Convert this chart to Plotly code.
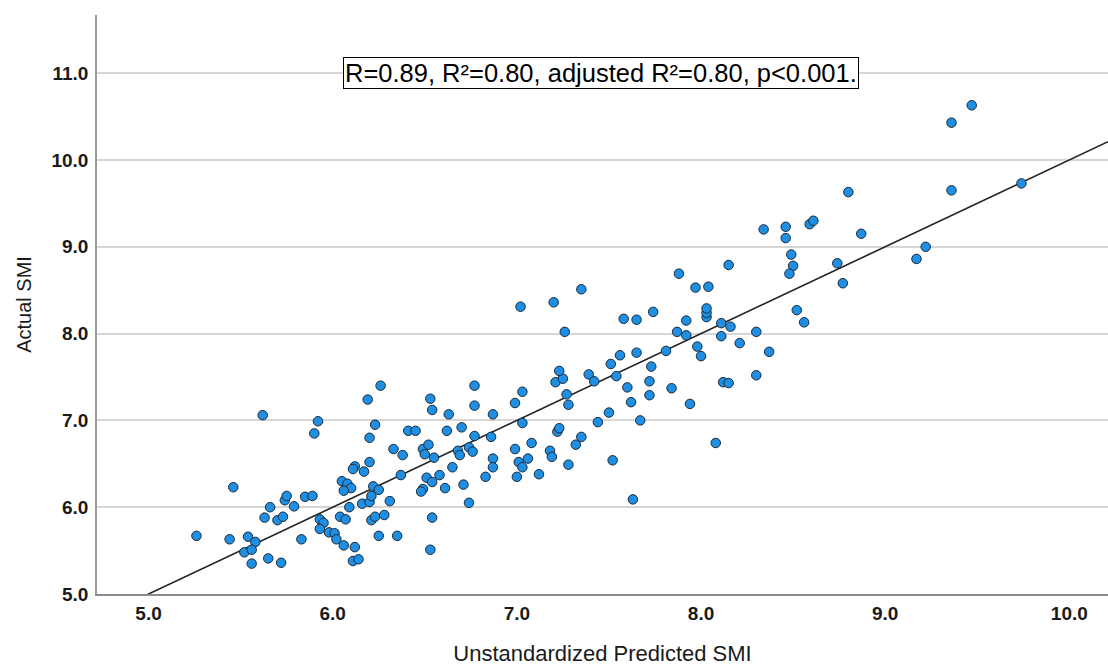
import numpy as np
import plotly.graph_objects as go

# Unstandardized predicted SMI (x) and actual SMI (y)
predicted = [
    5.26, 5.46, 5.44, 5.54, 5.58, 5.52, 5.56, 5.56, 5.65, 5.72, 5.62, 5.63, 5.66, 5.70, 5.73,
    5.74, 5.75, 5.79, 5.83, 5.85, 5.89, 5.90, 5.92, 5.93, 5.95, 5.93, 5.98, 6.01, 6.02, 6.06,
    6.12, 6.11, 6.14, 6.05, 6.08, 6.10, 6.06, 6.12, 6.11, 6.17, 6.20, 6.20, 6.23, 6.19, 6.04,
    6.07, 6.09, 6.16, 6.20, 6.21, 6.22, 6.25, 6.21, 6.23, 6.25,
    6.26, 6.31, 6.28, 6.35, 6.37, 6.33, 6.38, 6.41, 6.45, 6.53, 6.54, 6.63, 6.77, 6.77, 6.87,
    6.49, 6.52, 6.50, 6.55, 6.62, 6.70, 6.68, 6.69, 6.74, 6.76, 6.77, 6.86, 6.65, 6.58, 6.51,
    6.54, 6.49, 6.48, 6.61, 6.71, 6.74, 6.54, 6.53, 6.87, 6.87, 6.83, 6.99, 7.03, 7.03, 6.99,
    7.08, 7.01, 7.06, 7.03, 7.00, 7.12, 7.18, 7.19, 7.22, 7.23, 7.21, 7.25, 7.23, 7.27, 7.28,
    7.28, 7.26,
    7.35, 7.88, 7.97, 8.04, 8.15, 7.58, 7.65, 7.74, 7.92, 7.87, 7.92, 8.03, 8.03, 8.03, 8.11,
    8.16, 8.11, 8.21, 8.30, 7.98, 8.00, 7.81, 7.65, 7.56, 7.51, 7.54, 7.39, 7.42, 7.60, 7.73,
    7.72, 7.72, 7.62, 7.84, 7.94, 8.12, 8.15, 8.30, 7.50, 7.44, 7.67, 7.35, 7.32, 7.52, 8.08,
    7.63,
    8.80, 8.34, 8.46, 8.46, 8.59, 8.61, 8.87, 8.49, 8.50, 8.48, 8.74, 8.77, 8.37, 8.52, 8.56,
    9.47, 9.36, 9.36, 9.74, 9.22, 9.17,
    7.02, 7.20,
]
actual = [
    5.67, 6.23, 5.63, 5.66, 5.60, 5.48, 5.51, 5.35, 5.41, 5.36, 7.06, 5.88, 6.00, 5.85, 5.89,
    6.08, 6.13, 6.01, 5.63, 6.12, 6.13, 6.85, 6.99, 5.86, 5.82, 5.75, 5.71, 5.70, 5.63, 5.56,
    5.54, 5.38, 5.40, 6.30, 6.27, 6.22, 6.19, 6.47, 6.44, 6.41, 6.52, 6.80, 6.95, 7.24, 5.89,
    5.86, 6.00, 6.04, 6.06, 6.13, 6.24, 6.20, 5.85, 5.89, 5.67,
    7.40, 6.07, 5.91, 5.67, 6.37, 6.67, 6.60, 6.88, 6.88, 7.25, 7.12, 7.07, 7.40, 7.17, 7.07,
    6.67, 6.72, 6.61, 6.57, 6.88, 6.92, 6.65, 6.60, 6.69, 6.64, 6.82, 6.81, 6.46, 6.37, 6.34,
    6.29, 6.21, 6.18, 6.22, 6.26, 6.05, 5.88, 5.51, 6.56, 6.46, 6.35, 7.20, 7.33, 6.97, 6.67,
    6.74, 6.52, 6.56, 6.46, 6.35, 6.38, 6.65, 6.58, 6.87, 6.91, 7.44, 7.48, 7.57, 7.30, 7.18,
    6.49, 8.02,
    8.51, 8.69, 8.53, 8.54, 8.79, 8.17, 8.16, 8.25, 8.15, 8.02, 7.98, 8.19, 8.24, 8.29, 8.12,
    8.08, 7.97, 7.89, 8.02, 7.85, 7.74, 7.80, 7.78, 7.75, 7.65, 7.51, 7.53, 7.45, 7.38, 7.62,
    7.45, 7.29, 7.21, 7.37, 7.19, 7.44, 7.43, 7.52, 7.09, 6.98, 7.00, 6.81, 6.72, 6.54, 6.74,
    6.09,
    9.63, 9.20, 9.23, 9.10, 9.26, 9.30, 9.15, 8.91, 8.78, 8.69, 8.81, 8.58, 7.79, 8.27, 8.13,
    10.63, 10.43, 9.65, 9.73, 9.00, 8.86,
    8.31, 8.36,
]

# Fit line of actual on predicted (slope 1, intercept 0 for predicted values)
fit_slope = 1.0
fit_intercept = 0.0

x_range = [4.72, 10.21]
y_range = [5.0, 11.67]
x_ticks = [5.0, 6.0, 7.0, 8.0, 9.0, 10.0]
y_ticks = [5.0, 6.0, 7.0, 8.0, 9.0, 10.0, 11.0]

stats_text = "R=0.89, R²=0.80, adjusted R²=0.80, p<0.001."
x_title = "Unstandardized Predicted SMI"
y_title = "Actual SMI"

FONT = "Arial, 'Liberation Sans', sans-serif"

line_x = np.array(x_range)
line_y = fit_intercept + fit_slope * line_x

fig = go.Figure()
fig.add_trace(go.Scatter(
    x=line_x, y=line_y, mode="lines",
    line=dict(color="#222222", width=1.6),
    hoverinfo="skip", showlegend=False, cliponaxis=True,
))
fig.add_trace(go.Scatter(
    x=predicted, y=actual, mode="markers",
    marker=dict(size=9.5, color="#1F8FE3", line=dict(color="#1a2a3a", width=1)),
    showlegend=False,
))

fig.add_annotation(
    text=stats_text, xref="paper", yref="paper", x=0.499, y=0.9,
    xanchor="center", yanchor="middle", showarrow=False,
    font=dict(family=FONT, size=25.5, color="#000000"),
    bgcolor="white", bordercolor="#000000", borderwidth=1, borderpad=1,
)

fig.update_layout(
    width=1108, height=666,
    margin=dict(l=97, r=0, t=15, b=72),
    paper_bgcolor="white", plot_bgcolor="white",
    font=dict(family=FONT, color="#1a1a1a"),
)
fig.update_xaxes(
    range=x_range, tickvals=x_ticks, ticktext=[f"{v:.1f}" for v in x_ticks],
    showgrid=False, zeroline=False, automargin=False,
    showline=True, linecolor="#8c8c8c", linewidth=2,
    ticks="outside", ticklen=1, tickcolor="rgba(0,0,0,0)",
    tickfont=dict(family=FONT, size=19, color="#1a1a1a", weight="bold"),
    title=dict(text=x_title, font=dict(family=FONT, size=22, color="#1a1a1a"), standoff=25),
)
fig.update_yaxes(
    range=y_range, tickvals=y_ticks, ticktext=[f"{v:.1f}" for v in y_ticks],
    showgrid=True, gridcolor="#d6d6d6", gridwidth=1.5, zeroline=False, automargin=False,
    showline=True, linecolor="#9a9a9a", linewidth=1.5,
    ticks="outside", ticklen=3, tickcolor="rgba(0,0,0,0)",
    tickfont=dict(family=FONT, size=19, color="#1a1a1a", weight="bold"),
    title=dict(text=y_title, font=dict(family=FONT, size=20, color="#1a1a1a"), standoff=14),
)

fig.write_html("out.html", config={"displayModeBar": False},
               post_script="document.body.style.margin='0';")
